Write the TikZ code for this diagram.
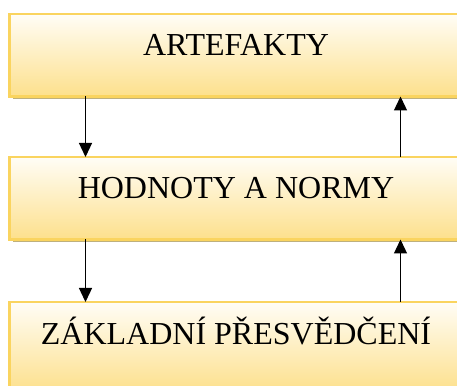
\documentclass[tikz,border=0pt]{standalone}
\usepackage{fontspec}
\setmainfont{Liberation Serif}
\usetikzlibrary{arrows.meta,shadows}
\definecolor{boxtop}{RGB}{255,253,246}
\definecolor{boxbot}{RGB}{253,224,140}
\definecolor{boxline}{RGB}{250,212,95}
\definecolor{boxshadow}{RGB}{190,176,125}
\tikzset{
  layer/.style={rectangle, inner sep=0pt, outer sep=0pt,
    minimum width=453pt, minimum height=82.5pt,
    top color=boxtop, bottom color=boxbot,
    draw=boxline, line width=2.2pt,
    general shadow={fill=boxshadow, shadow xshift=3pt, shadow yshift=-3pt},
    font=\fontsize{32}{38}\selectfont,
    text height=22pt, text depth=20.5pt},
  flow/.style={line width=1.3pt, -{Triangle[width=13pt,length=14pt]}}
}
\begin{document}
\begin{tikzpicture}[x=1pt,y=1pt]
  \useasboundingbox (0,0) rectangle (457,385);
  \node[layer] (art) at (236,329.75) {ARTEFAKTY};
  \node[layer] (hod) at (236,186.75) {HODNOTY A NORMY};
  \node[layer, minimum height=90pt, text height=26pt, text depth=32pt] (zak) at (236,38) {ZÁKLADNÍ PŘESVĚDČENÍ};
  \coordinate (xl) at (85.5,0);
  \coordinate (xr) at (400.5,0);
  \draw[flow] (art.south -| xl) -- (hod.north -| xl);
  \draw[flow] (hod.north -| xr) -- (art.south -| xr);
  \draw[flow] (hod.south -| xl) -- (zak.north -| xl);
  \draw[flow] (zak.north -| xr) -- (hod.south -| xr);
\end{tikzpicture}
\end{document}
